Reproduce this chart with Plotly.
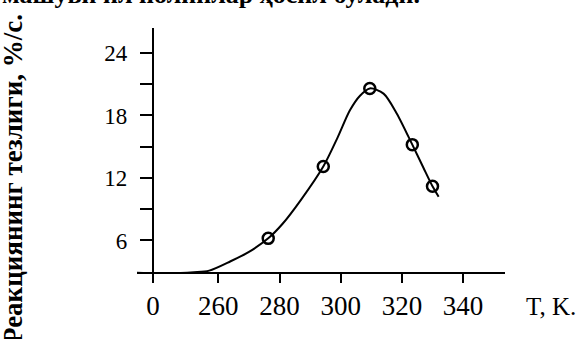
import plotly.graph_objects as go

# measured points (T, K ; rate, %/s)
temp_points = [276.3, 294.3, 309.5, 323.4, 330.0]
rate_points = [6.2, 13.1, 20.6, 15.2, 11.2]

# hand-drawn curve
temp_curve = [233.4, 245, 252, 257, 264, 270, 276.3, 281, 287, 294.3, 299, 303,
              306.3, 309.5, 314, 318.3, 323.4, 327, 330, 332]
rate_curve = [2.9, 2.85, 2.95, 3.1, 4.0, 4.9, 6.2, 7.6, 9.9, 13.1, 15.9, 18.5,
              19.9, 20.6, 20.1, 18.2, 15.2, 13.0, 11.2, 10.2]

x_tickvals = [238.6, 260, 280, 300, 320, 340]
x_ticktext = ["0", "260", "280", "300", "320", "340"]
y_tickvals = [6, 9, 12, 15, 18, 21, 24]
y_ticktext = ["6", "", "12", "", "18", "", "24"]

x_range = [233.4, 353.7]
y_range = [2.97, 26.4]

serif = "Liberation Serif, Times New Roman, serif"

fig = go.Figure()
fig.add_trace(go.Scatter(
    x=temp_curve, y=rate_curve, mode="lines",
    line=dict(color="black", width=2, shape="spline", smoothing=0.8),
    hoverinfo="skip", showlegend=False,
))
fig.add_trace(go.Scatter(
    x=temp_points, y=rate_points, mode="markers",
    marker=dict(symbol="circle-open", size=11, color="black", line=dict(width=2.5)),
    showlegend=False,
))

fig.update_layout(
    width=584, height=339, autosize=False,
    margin=dict(l=137, r=79, t=28, b=67),
    paper_bgcolor="white", plot_bgcolor="white",
    font=dict(family=serif, color="black"),
    xaxis=dict(
        range=x_range, tickvals=x_tickvals, ticktext=x_ticktext,
        showgrid=False, zeroline=False, showline=True, linecolor="black", linewidth=2,
        ticks="outside", ticklen=9, tickwidth=2, tickcolor="black",
        tickfont=dict(size=27, family=serif),
    ),
    yaxis=dict(
        range=y_range, tickvals=y_tickvals, ticktext=y_ticktext,
        anchor="free", position=(238.6 - x_range[0]) / (x_range[1] - x_range[0]),
        showgrid=False, zeroline=False, showline=True, linecolor="black", linewidth=2,
        ticks="outside", ticklen=12, tickwidth=2, tickcolor="black",
        tickfont=dict(size=23, family=serif), ticklabelstandoff=8,
    ),
    annotations=[
        dict(text="<b>Реакциянинг тезлиги, %/с.</b>", textangle=-90,
             xref="paper", yref="paper", x=-0.335, y=0.38,
             xanchor="center", yanchor="middle", showarrow=False,
             font=dict(size=27, family=serif)),
        dict(text="T, K.", xref="paper", yref="paper",
             x=1.125, y=-0.14, xanchor="center", yanchor="middle",
             showarrow=False, font=dict(size=25, family=serif)),
        dict(text="<b>машуви ил нолиплар ҳосил булади.</b>",
             xref="paper", yref="paper", x=-0.372, y=1.07,
             xanchor="left", yanchor="bottom", showarrow=False,
             font=dict(size=26, family=serif)),
    ],
)

fig.write_html("out.html", config={"displayModeBar": False},
               post_script="document.body.style.margin='0';")
